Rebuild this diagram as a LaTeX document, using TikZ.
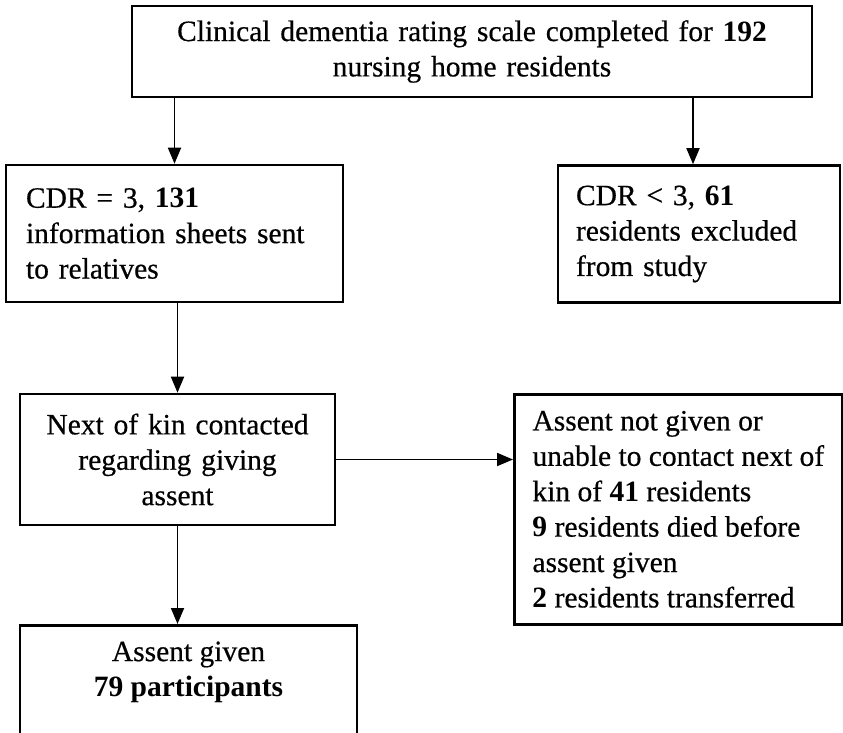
\documentclass[tikz,border=0pt]{standalone}
\usepackage{fontspec}
\setmainfont{Liberation Serif}[UprightFeatures={FakeBold=0.5}]
\usetikzlibrary{arrows.meta,positioning,calc}

\begin{document}
\begin{tikzpicture}[
    x=1pt, y=-1pt,
    font=\fontsize{29.5}{35.4}\selectfont,
    box/.style={rectangle, draw, line width=2.6pt, inner xsep=18pt, inner ysep=5pt},
    arrow/.style={-{Triangle[length=16pt,width=13pt]}, line width=1.8pt}
]
    \useasboundingbox (0,0) rectangle (843,733);
    \clip (0,0) rectangle (843,733);

    \node[box, minimum width=680pt, minimum height=91pt, text width=640pt, align=center] (scale) at (472,51.5)
        {Clinical dementia rating scale completed for \textbf{192}\\nursing home residents};

    \node[box, inner xsep=20pt, minimum width=337pt, minimum height=137pt, text width=297pt, align=left] (cdrin) at (174.5,233.5)
        {CDR = 3, \textbf{131}\\information sheets sent\\to relatives};
    \node[box, minimum width=282pt, minimum height=137pt, text width=246pt, align=left] (cdrout) at (699,234)
        {CDR < 3, \textbf{61}\\residents excluded\\from study};

    \node[box, minimum width=315pt, minimum height=131pt, text width=279pt, align=center] (kin) at (177.5,459.5)
        {Next of kin contacted\\regarding giving\\assent};
    \node[box, anchor=north west, minimum width=328pt, minimum height=230pt, align=left] (notgiven) at (513,393)
        {Assent not given or\\unable to contact next of\\kin of \textbf{41} residents\\\textbf{9} residents died before\\assent given\\\textbf{2} residents transferred};

    \node[box, anchor=north, minimum width=337pt, minimum height=160pt] (given) at (188.5,624) {};
    \node[anchor=north, align=center] (givenlabel) at ([yshift=-14pt]given.north)
        {Assent given\\\textbf{79 participants}};

    \draw[arrow] (scale.south -| cdrin) -- (cdrin.north);
    \draw[arrow] ([xshift=-6pt]scale.south -| cdrout) -- ([xshift=-6pt]cdrout.north);
    \draw[arrow] (cdrin.south -| kin) -- (kin.north);
    \draw[arrow] (kin.east) -- (kin.east -| notgiven.west);
    \draw[arrow] (kin.south) -- (kin.south |- given.north);
\end{tikzpicture}
\end{document}
